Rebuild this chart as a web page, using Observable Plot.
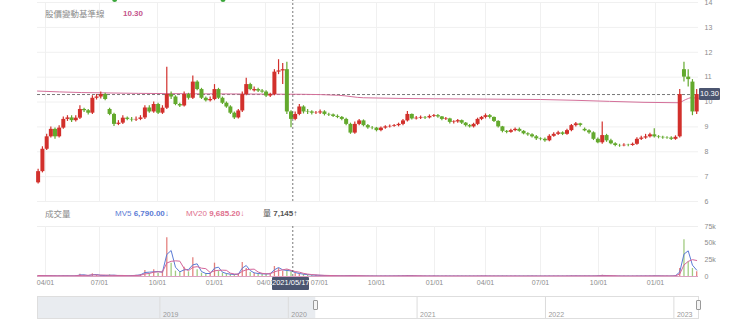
<!DOCTYPE html>
<html><head><meta charset="utf-8">
<script src="https://cdn.jsdelivr.net/npm/d3@7"></script>
<script src="https://cdn.jsdelivr.net/npm/@observablehq/plot@0.6"></script>
<style>
body{margin:0;background:#fff;font-family:"Liberation Sans",Arial,"Noto Sans CJK TC",sans-serif;}
#wrap{position:relative;width:740px;height:331px;overflow:hidden;background:#fff;}
#wrap > *{position:absolute;}
.lg{font-size:8.5px;white-space:nowrap;line-height:10px;}
.tag{background:#4b5570;color:#fff;font-size:7.5px;line-height:12px;text-align:center;border-radius:1px;}
.handle{width:5px;height:10px;border:1px solid #9a9a9a;background:#f4f4f4;border-radius:1px;box-sizing:border-box;}
</style></head><body><div id="wrap"></div>
<script>
// ---------- data ----------
const firstWeek = "2020-03-20";
const opens = [
6.75,7.2,8.1,8.6,8.9,8.6,8.95,9.3,9.36,9.25,
9.35,9.7,9.65,9.55,10.15,10.2,10.3,9.7,9.5,9.1,
9.15,9.35,9.3,9.28,9.3,9.36,9.76,9.6,9.9,9.55,
9.75,10.3,10.2,9.9,9.84,10.3,10.15,10.8,10.5,10.15,
10.05,10.1,10.5,10.15,9.95,9.8,9.55,9.36,9.64,10.3,
10.7,10.45,10.5,10.44,10.4,10.24,10.3,11.2,11.25,11.3,
9.6,9.3,9.5,9.8,9.62,9.6,9.55,9.56,9.6,9.5,
9.48,9.42,9.38,9.3,9.1,8.75,9.1,9.24,9.05,8.96,
8.95,8.85,8.95,9.0,9.02,9.05,9.1,9.24,9.5,9.32,
9.35,9.38,9.36,9.42,9.45,9.4,9.3,9.32,9.18,9.2,
9.25,9.15,9.05,9.0,9.1,9.3,9.38,9.45,9.38,9.22,
9.0,8.82,8.78,8.85,8.9,8.82,8.72,8.68,8.6,8.52,
8.5,8.44,8.62,8.7,8.76,8.7,8.85,9.05,9.12,8.9,
8.84,8.76,8.5,8.36,8.65,8.44,8.32,8.25,8.24,8.26,
8.25,8.3,8.5,8.55,8.6,8.68,8.6,8.58,8.56,8.55,
8.5,8.6,11.3,11.0,10.8,9.6];
const closes = [
7.2,8.1,8.6,8.9,8.6,8.95,9.3,9.36,9.25,9.35,
9.7,9.65,9.55,10.15,10.2,10.3,10.1,9.5,9.1,9.15,
9.35,9.3,9.28,9.3,9.36,9.76,9.6,9.9,9.55,9.75,
10.3,10.2,9.9,9.84,10.3,10.15,10.8,10.5,10.15,10.05,
10.1,10.5,10.15,9.95,9.8,9.55,9.36,9.64,10.3,10.7,
10.5,10.5,10.44,10.4,10.24,10.3,11.2,11.25,11.3,9.6,
9.3,9.5,9.8,9.6,9.6,9.55,9.56,9.6,9.5,9.48,
9.42,9.38,9.3,9.1,8.75,9.1,9.24,9.05,8.96,8.95,
8.85,8.95,9.0,9.02,9.05,9.1,9.24,9.5,9.32,9.35,
9.38,9.36,9.42,9.45,9.4,9.3,9.32,9.18,9.2,9.25,
9.15,9.05,9.0,9.1,9.3,9.38,9.45,9.38,9.22,9.0,
8.82,8.78,8.85,8.9,8.82,8.72,8.68,8.6,8.52,8.5,
8.44,8.62,8.7,8.76,8.7,8.85,9.05,9.12,9.06,8.84,
8.76,8.5,8.36,8.65,8.44,8.32,8.25,8.24,8.26,8.25,
8.3,8.5,8.55,8.6,8.68,8.6,8.58,8.56,8.55,8.5,
8.58,10.3,11.0,10.9,9.6,10.3];
const highs = [
7.3,8.2,8.7,9.0,8.95,9.05,9.4,9.45,9.45,9.45,
9.85,9.75,9.7,10.25,10.3,10.4,10.35,9.75,9.55,9.25,
9.45,9.4,9.38,9.4,9.45,9.85,9.85,10.0,9.95,9.85,
11.4,10.4,10.25,9.95,10.4,10.35,11.05,10.85,10.55,10.2,
10.2,10.7,10.55,10.2,10.0,9.85,9.6,9.7,10.4,10.95,
10.75,10.6,10.55,10.5,10.45,10.35,11.3,11.7,11.55,11.6,
9.65,9.6,9.9,9.85,9.7,9.65,9.62,9.68,9.65,9.55,
9.52,9.48,9.42,9.35,9.15,9.2,9.3,9.28,9.1,9.02,
8.98,9.0,9.05,9.08,9.1,9.15,9.3,9.62,9.52,9.42,
9.44,9.42,9.48,9.5,9.5,9.42,9.38,9.35,9.25,9.3,
9.28,9.18,9.1,9.15,9.35,9.42,9.52,9.5,9.4,9.25,
9.02,8.85,8.9,8.95,8.95,8.85,8.76,8.72,8.65,8.56,
8.55,8.68,8.76,8.82,8.8,8.9,9.1,9.18,9.15,8.95,
8.88,8.8,8.55,9.2,8.7,8.5,8.36,8.3,8.32,8.3,
8.35,8.56,8.62,8.7,8.74,8.92,8.65,8.62,8.6,8.6,
8.64,10.5,11.6,11.3,10.9,10.5];
const lows = [
6.7,7.15,8.05,8.55,8.5,8.55,8.9,9.22,9.18,9.2,
9.3,9.58,9.48,9.5,10.08,10.12,10.05,9.45,9.02,9.05,
9.1,9.25,9.2,9.22,9.25,9.3,9.55,9.55,9.5,9.5,
9.7,10.1,9.85,9.78,9.8,10.08,10.1,10.45,10.1,10.0,
10.0,10.05,10.1,9.9,9.75,9.5,9.3,9.32,9.58,10.25,
10.45,10.4,10.38,10.35,10.18,10.18,10.25,11.1,10.7,9.5,
8.96,9.25,9.45,9.52,9.5,9.48,9.5,9.5,9.44,9.42,
9.38,9.33,9.25,9.05,8.7,8.7,9.05,9.0,8.9,8.88,
8.8,8.8,8.9,8.95,8.98,9.0,9.05,9.2,9.28,9.28,
9.3,9.3,9.32,9.38,9.35,9.25,9.26,9.12,9.12,9.15,
9.1,9.0,8.95,8.95,9.05,9.25,9.32,9.32,9.18,8.95,
8.76,8.72,8.74,8.8,8.78,8.68,8.62,8.55,8.45,8.44,
8.38,8.4,8.58,8.65,8.65,8.66,8.8,9.0,9.0,8.8,
8.7,8.45,8.32,8.3,8.38,8.28,8.2,8.18,8.2,8.2,
8.22,8.26,8.45,8.5,8.55,8.55,8.52,8.5,8.5,8.45,
8.46,8.55,10.8,10.6,9.45,9.5];
const volumeK = [
1.5,1.2,1.0,1.3,0.8,1.0,1.2,1.0,0.9,1.1,
3.5,1.5,1.2,4.0,2.0,1.5,1.2,2.5,1.5,1.2,
1.0,1.2,1.5,2.0,3.0,9.0,4.0,10.0,5.0,8.0,
58,20,8,6,14,7,28,10,5,4,
5,20,8,5,4,3,3,4,21,12,
6,5,4,4,3.5,5,15,12,8,10,
7,5,4,3,2.5,2,2,1.5,1.5,1.2,
1.2,1.0,1.0,1.2,1.5,1.0,1.0,0.8,0.8,0.8,
0.7,0.8,0.8,0.8,0.9,1.0,1.0,1.5,1.0,0.8,
0.8,0.7,0.8,0.8,0.7,0.7,0.8,0.7,0.7,0.8,
0.7,0.7,0.8,0.7,0.8,0.9,0.8,0.7,0.7,0.8,
0.8,0.7,0.7,0.8,0.7,0.7,0.8,0.8,0.7,0.7,
0.7,0.8,0.7,0.8,0.7,0.8,1.0,0.9,0.8,0.9,
0.8,0.9,1.2,2.0,1.0,0.8,0.7,0.7,0.7,0.7,
0.7,0.8,0.8,0.8,0.8,1.2,0.8,0.7,0.7,0.8,
1.5,12,55,22,12,7.1];
const baseDates = ["2020-03-19","2020-06-01","2020-12-01","2021-06-01","2021-08-01","2021-09-10","2022-01-01","2022-07-01","2023-02-08","2023-02-20","2023-03-01","2023-03-13"];
const baseValues = [10.44,10.38,10.33,10.31,10.27,10.17,10.13,10.1,9.97,10.1,10.17,10.15];
const markerDates = ["2020-07-25","2021-01-16"];
const tickDates = ["2020-04-01","2020-07-01","2020-10-01","2021-01-01","2021-04-01","2021-07-01","2021-10-01","2022-01-01","2022-04-01","2022-07-01","2022-10-01","2023-01-01"];
const priceTicks = [6,7,8,9,10,11,12,13,14];
const volTicks = [0,25,50,75];
const navYears = ["2019","2020","2021","2022","2023"];
const crossDate = "2021-05-17";
const crossLabel = "2021/05/17";
const lastPrice = 10.30;
const lastLabel = "10.30";
const titleText = "股價變動基準線";
const volTitle = "成交量";
const mv5Text = ["MV5", "6,790.00↓"];
const mv20Text = ["MV20", "9,685.20↓"];
const qtyText = ["量", "7,145↑"];

// ---------- build ----------
const RED = "#d2302c", GREEN = "#63a92d";
const weeks = closes.map((c, i) => ({date: d3.utcDay.offset(new Date(firstWeek), 7 * i), o: opens[i], h: highs[i], l: lows[i], c, v: volumeK[i]}));
const base = baseDates.map((d, i) => ({date: new Date(d), v: baseValues[i]}));
const ticks = tickDates.map(d => new Date(d));
const xStart = new Date("2020-03-19"), xEnd = new Date("2023-03-13");
// piecewise trading-day axis: each quarter start pinned where the chart shows it
const xScale = {type: "utc", domain: [xStart, ...ticks, xEnd], range: [37, 45, 99, 157, 214, 265, 319, 376, 434, 485, 540, 598, 655, 698]};
const col = d => d.c >= d.o ? RED : GREEN;
const FONT = '"Liberation Sans", Arial, "Noto Sans CJK TC", sans-serif';
const wrap = document.getElementById("wrap");

const price = Plot.plot({
  width: 740, height: 206, marginLeft: 37, marginRight: 42, marginTop: 2, marginBottom: 5,
  style: {fontSize: "7px", fontFamily: FONT, color: "#8c8c8c", background: "transparent"},
  x: {...xScale, axis: null},
  y: {domain: [6, 14], axis: "right", ticks: priceTicks, tickSize: 0, tickPadding: 6, label: null},
  marks: [
    Plot.ruleY(priceTicks, {stroke: "#f0f0f0"}),
    Plot.ruleX(ticks, {stroke: "#f0f0f0"}),
    Plot.ruleY([lastPrice], {stroke: "#555", strokeDasharray: "3,2", strokeWidth: 0.8}),
    Plot.line(base, {x: "date", y: "v", stroke: "#d4709a", strokeWidth: 1, curve: "monotone-x"}),
    Plot.ruleX(weeks, {x: "date", y1: "l", y2: "h", stroke: col, strokeWidth: 1.2}),
    Plot.ruleX(weeks, {x: "date", y1: "o", y2: "c", stroke: col, strokeWidth: 4}),
    Plot.ruleX([new Date(crossDate)], {y1: 6, y2: 14.2, stroke: "#555", strokeDasharray: "2,2", strokeWidth: 0.8}),
    Plot.dot(markerDates.map(d => new Date(d)), {x: d => d, y: 14.12, r: 2.5, fill: "#3aa63a", stroke: "none"})
  ]
});
price.style.left = "0px"; price.style.top = "0px";
wrap.appendChild(price);

const vol = Plot.plot({
  width: 740, height: 72, marginLeft: 37, marginRight: 42, marginTop: 6, marginBottom: 16,
  style: {fontSize: "7px", fontFamily: FONT, color: "#8c8c8c", background: "transparent"},
  x: {...xScale, ticks: ticks, tickFormat: d3.utcFormat("%m/%d"), tickSize: 0, tickPadding: 4, label: null},
  y: {domain: [0, 75], axis: "right", ticks: volTicks, tickFormat: d => d === 0 ? "0" : d + "k", tickSize: 0, tickPadding: 6, label: null},
  marks: [
    Plot.ruleY([75], {stroke: "#eeeeee"}),
    Plot.ruleX(ticks, {stroke: "#f0f0f0"}),
    Plot.ruleX(weeks, {x: "date", y1: 0, y2: "v", stroke: col, strokeOpacity: 0.6, strokeWidth: 1.3}),
    Plot.lineY(weeks, Plot.windowY({k: 2, anchor: "end", reduce: "mean"}, {x: "date", y: "v", stroke: "#5b7bd5", strokeWidth: 1})),
    Plot.lineY(weeks, Plot.windowY({k: 4, anchor: "end", reduce: "mean"}, {x: "date", y: "v", stroke: "#d4659a", strokeWidth: 1})),
    Plot.ruleY([0], {stroke: "#d9a0c0", strokeWidth: 1}),
    Plot.ruleX([new Date(crossDate)], {y1: 0, y2: 76, stroke: "#555", strokeDasharray: "2,2", strokeWidth: 0.8})
  ]
});
vol.style.left = "0px"; vol.style.top = "220px";
wrap.appendChild(vol);

const navDomain = [new Date("2018-01-18"), new Date("2023-03-12")];
const yearDates = navYears.map(y => new Date(y + "-01-01"));
const nav = Plot.plot({
  width: 740, height: 26, marginLeft: 37, marginRight: 42, marginTop: 2, marginBottom: 2,
  style: {fontSize: "7px", fontFamily: FONT, color: "#999", background: "transparent"},
  x: {type: "utc", domain: navDomain, axis: null},
  y: {domain: [0, 1], axis: null},
  marks: [
    Plot.rect([{a: navDomain[0], b: xStart}], {x1: "a", x2: "b", y1: 0, y2: 1, fill: "#e9ecf0"}),
    Plot.ruleX(yearDates, {stroke: "#dcdcdc"}),
    Plot.text(yearDates, {x: d => d, text: (d, i) => navYears[i], frameAnchor: "bottom", dy: -2, dx: 3, textAnchor: "start", fill: "#9a9a9a"}),
    Plot.frame({stroke: "#dedede"})
  ]
});
nav.style.left = "0px"; nav.style.top = "294px";
wrap.appendChild(nav);

// ---------- labels (HTML) ----------
function add(html, cls, left, top, extra) {
  const d = document.createElement("div");
  d.className = cls; d.innerHTML = html;
  d.style.left = left + "px"; d.style.top = top + "px";
  if (extra) Object.assign(d.style, extra);
  wrap.appendChild(d);
  return d;
}
add(titleText, "lg", 45, 9, {color: "#8c8c8c"});
add(lastLabel, "lg", 123, 9, {color: "#c4558c", fontWeight: "bold", fontSize: "8px"});
add(volTitle, "lg", 45, 209, {color: "#8c8c8c"});
add(`${mv5Text[0]} <b>${mv5Text[1]}</b>`, "lg", 115, 209, {color: "#5b7bd5", fontSize: "8px"});
add(`${mv20Text[0]} <b>${mv20Text[1]}</b>`, "lg", 186, 209, {color: "#e0708e", fontSize: "8px"});
add(`${qtyText[0]} <b>${qtyText[1]}</b>`, "lg", 263, 209, {color: "#555", fontSize: "8px"});

const cx = vol.scale("x").apply(new Date(crossDate));
add(crossLabel, "tag", Math.round(cx - 20), 277, {width: "37px", height: "13px"});
const py = price.scale("y").apply(lastPrice);
const px = price.scale("x").apply(xEnd);
add(lastLabel, "tag", Math.round(px + 1), Math.round(py - 6), {width: "21px", height: "12px"});

const nx = nav.scale("x");
add("", "handle", Math.round(nx.apply(xStart) - 2.5), 300);
add("", "handle", Math.round(nx.apply(navDomain[1]) - 2.5), 300);
</script></body></html>
